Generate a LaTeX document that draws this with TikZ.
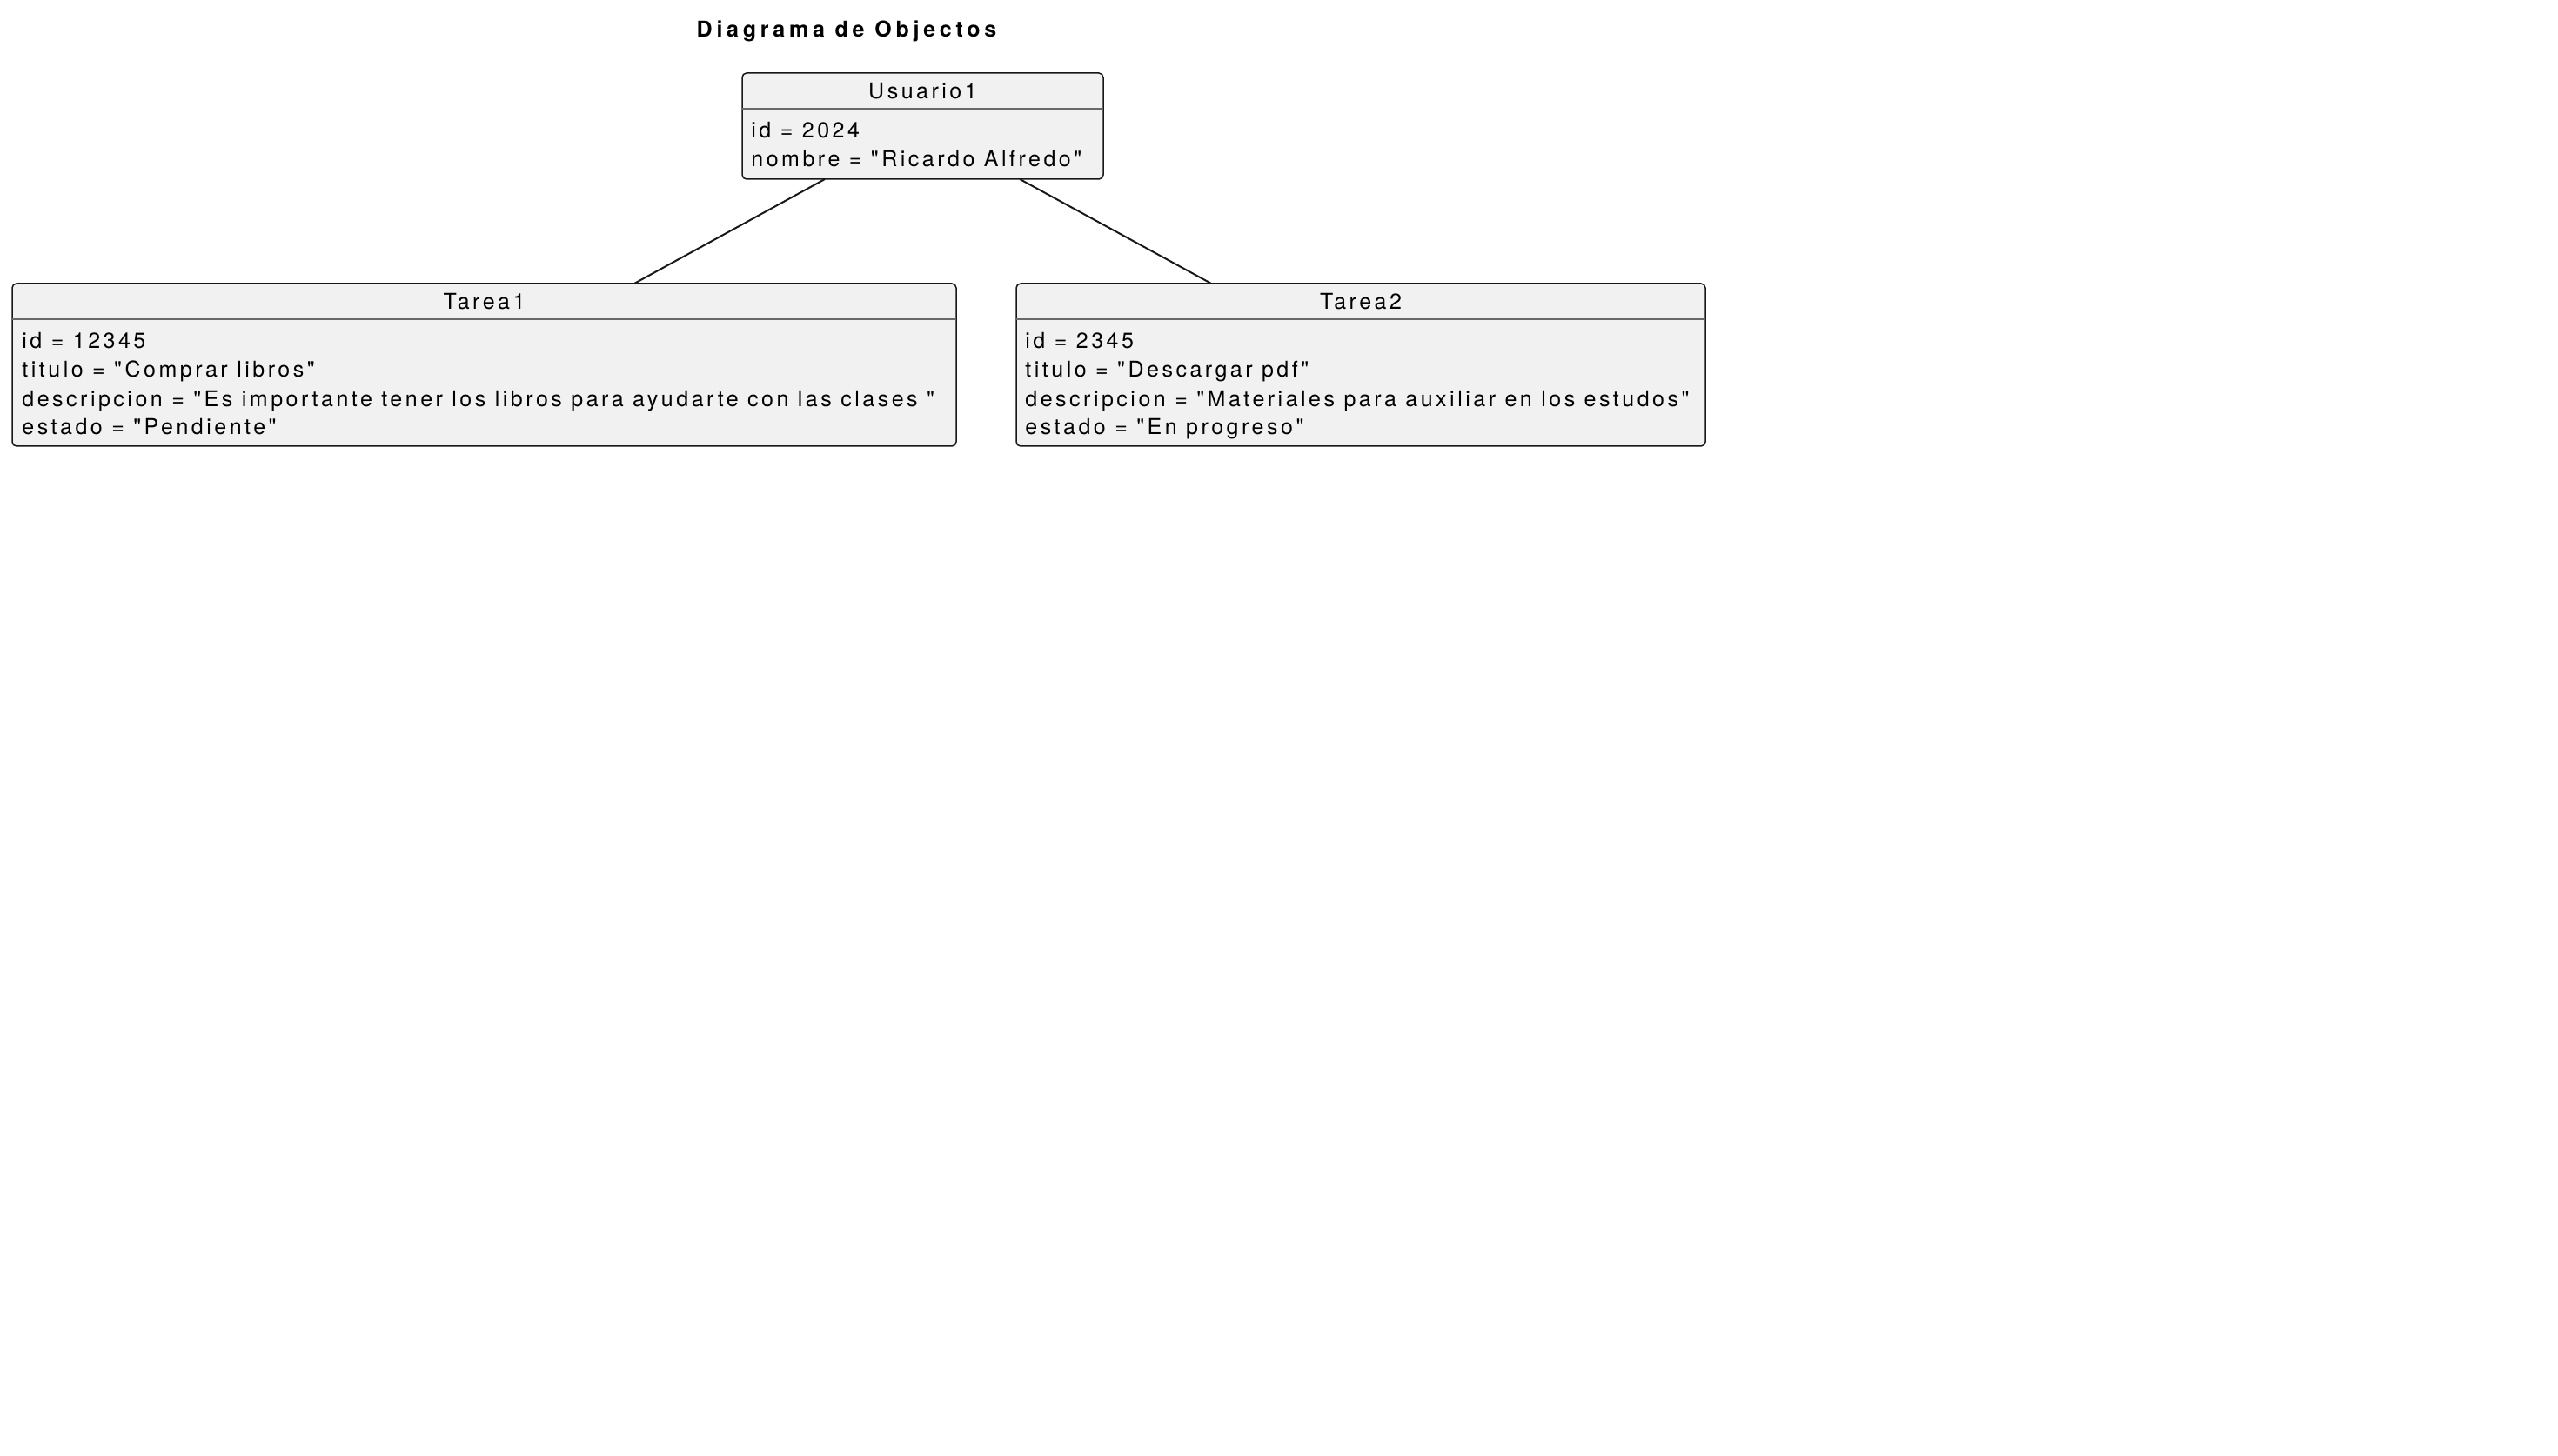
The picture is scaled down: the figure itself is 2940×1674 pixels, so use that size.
\documentclass[tikz,border=0pt]{standalone}
\usepackage{fontspec}
\newfontfamily\helv[LetterSpace=14]{TeX Gyre Heros}
\newfontfamily\helvtitle[LetterSpace=19]{TeX Gyre Heros}
\usetikzlibrary{calc}
\definecolor{boxfill}{HTML}{F1F1F1}
\definecolor{boxline}{HTML}{181818}
\begin{document}
\begin{tikzpicture}[x=0.5pt,y=-0.5pt,
  objbox/.style={draw=boxline, fill=boxfill, line width=0.75pt, rounded corners=2.5pt, inner sep=0pt, outer sep=0pt, anchor=north west},
  sepline/.style={draw=boxline!65, line width=0.6pt},
  txt/.style={inner sep=0pt, font=\helv\fontsize{12.5pt}{15pt}\selectfont},
  nm/.style={txt, anchor=base},
  attr/.style={txt, anchor=base west},
  link/.style={draw=boxline, line width=1pt}]
\useasboundingbox[fill=white] (0,0) rectangle (2940,1674);
\node[inner sep=0pt, font=\helvtitle\bfseries\fontsize{12.5pt}{15pt}\selectfont, anchor=base] (title) at (973,43) {Diagrama de Objectos};

% boxes
\node[objbox, minimum width=207.5pt, minimum height=61pt] (u) at (853,84) {};
\node[objbox, minimum width=542.5pt, minimum height=93.5pt] (t1) at (14,326) {};
\node[objbox, minimum width=396pt, minimum height=93.5pt] (t2) at (1168,326) {};

\draw[sepline] ([yshift=-20.5pt]u.north west) -- ([yshift=-20.5pt]u.north east);
\draw[sepline] ([yshift=-20.5pt]t1.north west) -- ([yshift=-20.5pt]t1.north east);
\draw[sepline] ([yshift=-20.5pt]t2.north west) -- ([yshift=-20.5pt]t2.north east);

% connectors
\draw[link] ($(u.south west)!0.229!(u.south east)$) -- ($(t1.north west)!0.659!(t1.north east)$);
\draw[link] ($(u.south west)!0.769!(u.south east)$) -- ($(t2.north west)!0.283!(t2.north east)$);

% Usuario1
\node[nm] (un) at (1060.5,114) {Usuario1};
\node[attr] (ua1) at (863,159) {id = 2024};
\node[attr] (ua2) at (863,192) {nombre = "Ricardo Alfredo"};

% Tarea1
\node[nm] (t1n) at (556.5,356) {Tarea1};
\node[attr] (t1a1) at (25,401) {id = 12345};
\node[attr] (t1a2) at (25,434) {titulo = "Comprar libros"};
\node[attr] (t1a3) at (25,467) {descripcion = "Es importante tener los libros para ayudarte con las clases "};
\node[attr] (t1a4) at (25,500) {estado = "Pendiente"};

% Tarea2
\node[nm] (t2n) at (1564,356) {Tarea2};
\node[attr] (t2a1) at (1178,401) {id = 2345};
\node[attr] (t2a2) at (1178,434) {titulo = "Descargar pdf"};
\node[attr] (t2a3) at (1178,467) {descripcion = "Materiales para auxiliar en los estudos"};
\node[attr] (t2a4) at (1178,500) {estado = "En progreso"};
\end{tikzpicture}
\end{document}
